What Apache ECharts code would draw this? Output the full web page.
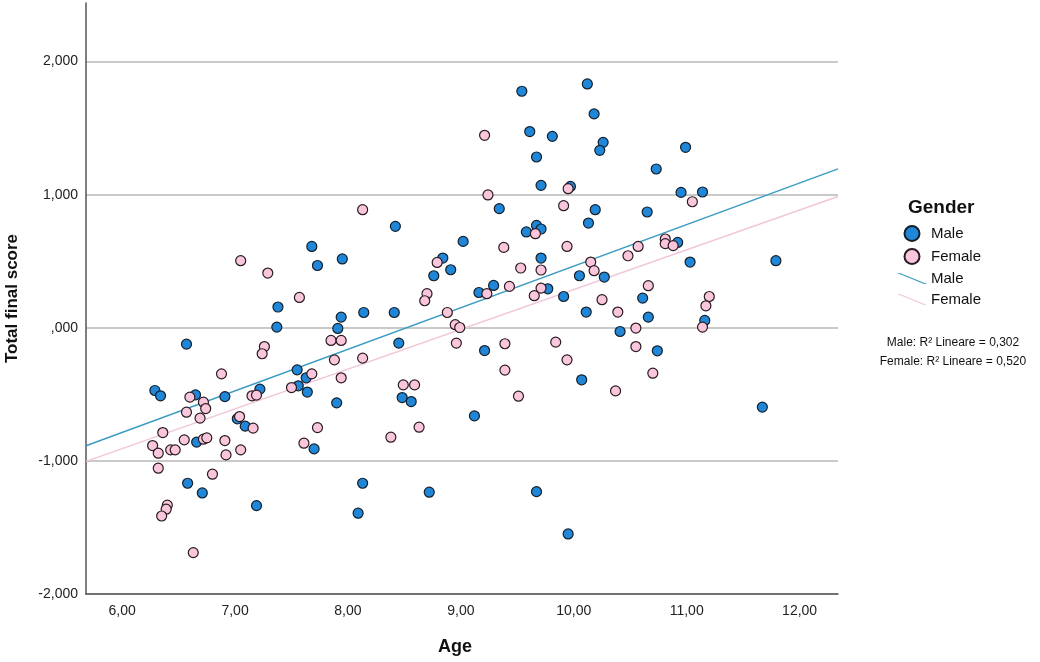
<!DOCTYPE html>
<html>
<head>
<meta charset="utf-8">
<script src="https://cdn.jsdelivr.net/npm/echarts@6/dist/echarts.min.js"></script>
<style>
  html, body { margin: 0; padding: 0; background: #fff; }
  #chart { width: 1040px; height: 662px; }
</style>
</head>
<body>
<div id="chart"></div>
<script>
// age / total final score
const maleData = [
  [7.68, 0.611], [7.73, 0.468], [7.95, 0.517], [7.38, 0.156], [7.37, 0.005],
  [7.94, 0.080], [7.91, -0.005], [6.57, -0.123], [6.29, -0.471], [6.34, -0.511],
  [6.65, -0.504], [6.91, -0.517], [7.22, -0.461], [7.55, -0.316], [7.63, -0.376],
  [7.56, -0.436], [7.64, -0.483], [7.90, -0.564], [7.02, -0.684], [7.09, -0.739],
  [6.66, -0.859], [7.70, -0.910], [6.58, -1.168], [6.71, -1.241], [7.19, -1.336],
  [9.54, 1.777], [9.61, 1.474], [9.81, 1.438], [9.67, 1.283], [9.71, 1.070],
  [9.97, 1.062], [9.34, 0.895], [8.42, 0.762], [9.67, 0.769], [9.71, 0.742],
  [9.58, 0.720], [9.02, 0.649], [8.84, 0.524], [9.71, 0.524], [8.91, 0.436],
  [8.76, 0.391], [10.05, 0.391], [9.29, 0.318], [9.16, 0.265], [9.77, 0.293],
  [9.91, 0.235], [8.14, 0.115], [8.41, 0.115], [8.45, -0.115], [9.21, -0.171],
  [8.48, -0.524], [8.56, -0.554], [9.12, -0.662], [10.07, -0.391], [8.13, -1.168],
  [8.09, -1.393], [8.72, -1.235], [9.67, -1.231], [9.95, -1.549], [10.12, 1.832],
  [10.18, 1.607], [10.26, 1.393], [10.23, 1.333], [10.99, 1.356], [10.73, 1.193],
  [10.95, 1.017], [11.14, 1.020], [10.19, 0.887], [10.65, 0.870], [10.13, 0.787],
  [10.92, 0.641], [11.03, 0.494], [11.79, 0.504], [10.27, 0.381], [10.61, 0.223],
  [10.11, 0.118], [10.66, 0.080], [11.16, 0.055], [10.41, -0.028], [10.74, -0.173],
  [11.67, -0.596]
];
const femaleData = [
  [7.05, 0.504], [7.29, 0.411], [7.57, 0.228], [7.85, -0.095], [7.94, -0.095],
  [7.26, -0.141], [7.24, -0.195], [7.88, -0.241], [7.94, -0.376], [6.88, -0.346],
  [7.68, -0.346], [7.50, -0.449], [6.60, -0.521], [6.72, -0.559], [6.74, -0.607],
  [6.57, -0.634], [7.15, -0.511], [7.19, -0.506], [6.69, -0.679], [7.04, -0.667],
  [7.16, -0.754], [7.73, -0.750], [6.36, -0.787], [6.55, -0.842], [6.72, -0.837],
  [6.75, -0.827], [6.91, -0.847], [7.61, -0.867], [6.27, -0.885], [6.32, -0.942],
  [6.43, -0.917], [6.47, -0.917], [6.92, -0.955], [7.05, -0.917], [6.32, -1.055],
  [6.80, -1.100], [6.40, -1.333], [6.39, -1.363], [6.35, -1.414], [6.63, -1.689],
  [9.21, 1.446], [9.24, 0.998], [9.95, 1.045], [9.91, 0.917], [8.13, 0.887],
  [9.66, 0.707], [9.38, 0.604], [9.94, 0.611], [8.79, 0.491], [9.53, 0.449],
  [9.71, 0.434], [8.70, 0.256], [8.68, 0.203], [9.23, 0.256], [9.43, 0.311],
  [9.71, 0.298], [9.65, 0.241], [8.88, 0.115], [8.95, 0.023], [8.99, 0.002],
  [8.13, -0.228], [8.96, -0.115], [9.39, -0.120], [9.39, -0.318], [9.84, -0.108],
  [9.94, -0.241], [8.49, -0.429], [8.59, -0.429], [9.51, -0.514], [8.63, -0.747],
  [8.38, -0.822], [11.05, 0.947], [10.57, 0.611], [10.48, 0.541], [10.81, 0.667],
  [10.81, 0.632], [10.88, 0.617], [10.15, 0.494], [10.18, 0.429], [10.66, 0.316],
  [10.25, 0.211], [10.39, 0.118], [10.55, -0.002], [11.14, 0.005], [11.20, 0.235],
  [11.17, 0.165], [10.55, -0.141], [10.70, -0.341], [10.37, -0.474]
];
const xTicks = [6, 7, 8, 9, 10, 11, 12];
const xRange = [5.68, 12.34];
const yRange = [-2, 2.44];
const r2Labels = ['Male: R\u00b2 Lineare = 0,302', 'Female: R\u00b2 Lineare = 0,520'];

const FONT = '"Liberation Sans", Arial, sans-serif';
const MALE = '#1f86d8', FEMALE = '#f9c6dc';
const MALE_LINE = '#3b9cc2', FEMALE_LINE = '#f1c6d9';
const SLASH = 'path://M0,0 L3,0 L30,11 L27,11 Z';

// least squares fit, drawn across the whole x range
function fitLine(pts) {
  let n = pts.length, sx = 0, sy = 0, sxx = 0, sxy = 0;
  pts.forEach(p => { sx += p[0]; sy += p[1]; sxx += p[0] * p[0]; sxy += p[0] * p[1]; });
  let b = (n * sxy - sx * sy) / (n * sxx - sx * sx);
  let a = (sy - b * sx) / n;
  return xRange.map(x => [x, a + b * x]);
}

function yFmt(v) {
  if (Math.abs(v) < 1e-9) return ',000';
  return v.toFixed(3).replace('.', ',');
}

const chart = echarts.init(document.getElementById('chart'));
chart.setOption({
  animation: false,
  textStyle: { fontFamily: FONT },
  title: {
    text: 'Gender', left: 903, top: 193,
    textStyle: { fontFamily: FONT, fontSize: 19, fontWeight: 'bold', color: '#111' }
  },
  legend: {
    orient: 'vertical', left: 892, top: 220,
    itemWidth: 30, itemHeight: 15, itemGap: 6,
    textStyle: { fontFamily: FONT, fontSize: 15, color: '#111', padding: [0, 0, 0, -1] },
    formatter: name => name.replace(' fit', ''),
    data: [
      { name: 'Male', icon: 'circle' },
      { name: 'Female', icon: 'circle' },
      {
        name: 'Male fit', icon: SLASH,
        itemStyle: { color: MALE_LINE, borderWidth: 0 },
        lineStyle: { color: MALE_LINE, width: 2 }
      },
      {
        name: 'Female fit', icon: SLASH,
        itemStyle: { color: FEMALE_LINE, borderWidth: 0 },
        lineStyle: { color: FEMALE_LINE, width: 2 }
      }
    ]
  },
  graphic: [
    {
      type: 'text', x: 953, y: 333,
      style: {
        text: r2Labels.join('\n'), fill: '#111', font: '12px ' + FONT,
        align: 'center', lineHeight: 19
      }
    }
  ],
  grid: { left: 86, right: 202, top: 3, bottom: 68, outerBoundsMode: 'none' },
  xAxis: {
    type: 'value', min: xRange[0], max: xRange[1],
    name: 'Age', nameLocation: 'middle', nameGap: 44,
    nameTextStyle: { fontFamily: FONT, fontSize: 18, fontWeight: 'bold', color: '#111', padding: [0, 14, 0, 0] },
    axisLine: { show: true, onZero: false, lineStyle: { color: '#555', width: 1.5 } },
    axisTick: { show: false },
    splitLine: { show: false },
    axisLabel: {
      customValues: xTicks, margin: 10, fontSize: 14, color: '#222',
      formatter: v => v.toFixed(2).replace('.', ',')
    }
  },
  yAxis: {
    type: 'value', min: yRange[0], max: yRange[1], interval: 1,
    name: 'Total final score', nameLocation: 'middle', nameGap: 65,
    nameTextStyle: { fontFamily: FONT, fontSize: 17, fontWeight: 'bold', color: '#111' },
    axisLine: { show: true, onZero: false, lineStyle: { color: '#555', width: 1.5 } },
    axisTick: { show: false },
    splitLine: { show: true, showMaxLine: false, lineStyle: { color: '#c9c9c9', width: 2 } },
    axisLabel: { margin: 8, fontSize: 14, color: '#222', showMaxLabel: false, formatter: yFmt }
  },
  series: [
    {
      name: 'Male fit', type: 'line', data: fitLine(maleData), symbol: 'none',
      lineStyle: { color: MALE_LINE, width: 1.5 }, itemStyle: { color: MALE_LINE }, z: 1
    },
    {
      name: 'Female fit', type: 'line', data: fitLine(femaleData), symbol: 'none',
      lineStyle: { color: FEMALE_LINE, width: 1.5 }, itemStyle: { color: FEMALE_LINE }, z: 1
    },
    {
      name: 'Male', type: 'scatter', data: maleData, symbolSize: 10, z: 3,
      itemStyle: { color: MALE, borderColor: '#14202c', borderWidth: 1.2, opacity: 1 }
    },
    {
      name: 'Female', type: 'scatter', data: femaleData, symbolSize: 10, z: 3,
      itemStyle: { color: FEMALE, borderColor: '#2a1a22', borderWidth: 1.2, opacity: 1 }
    }
  ]
});
</script>
</body>
</html>
